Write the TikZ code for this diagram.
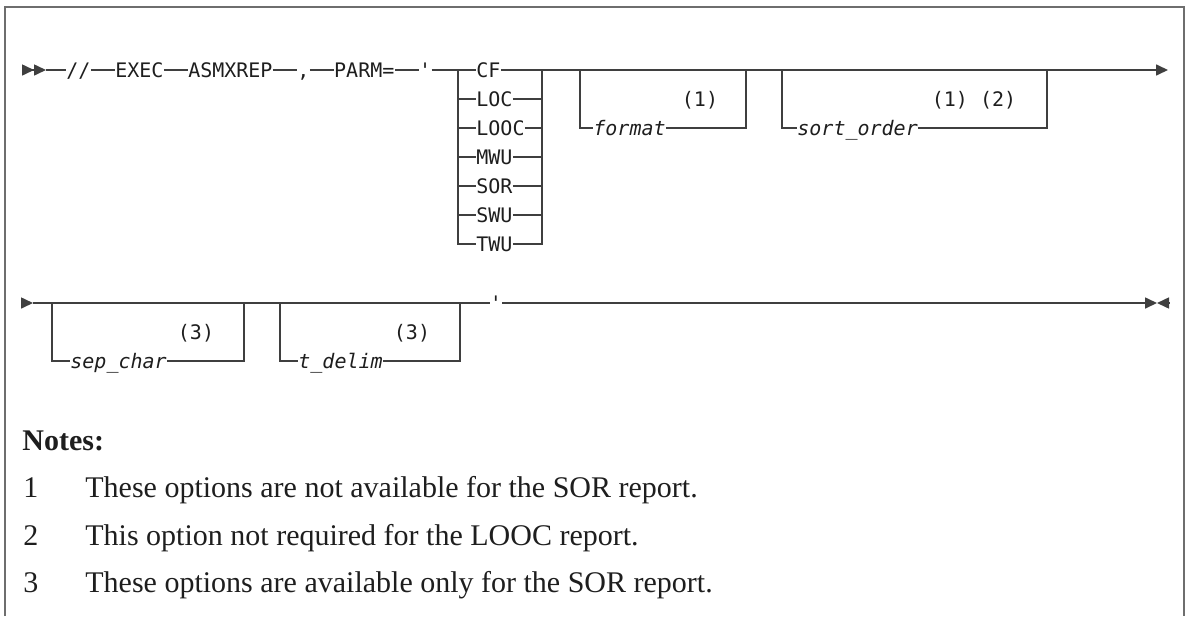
\documentclass[tikz,border=0pt]{standalone}
\usepackage{fontspec}
\setmainfont{Liberation Serif}
\setmonofont{DejaVu Sans Mono}
\usetikzlibrary{arrows.meta, positioning}

\definecolor{railgray}{HTML}{3F3F3F}
\definecolor{framegray}{HTML}{6E6E6E}
\definecolor{inkblack}{HTML}{1E1E1E}

\begin{document}
\begin{tikzpicture}[
    x=0.5pt, y=-0.5pt,
    node distance=12pt,
    font=\ttfamily\fontsize{10}{12}\selectfont,
    token/.style={inner xsep=0pt, inner ysep=0pt, text height=7.3pt, text depth=0pt, text=inkblack},
    param/.style={token, font=\ttfamily\itshape\fontsize{10}{12}\selectfont},
    rail/.style={draw=railgray, line width=0.8pt},
    railend/.style={rail, -{Triangle[length=6pt, width=5.5pt]}},
    notetext/.style={font=\rmfamily\fontsize{15}{18}\selectfont, inner sep=0pt, anchor=base west, text=inkblack},
    frame/.style={draw=framegray, line width=1.2pt}
]
\useasboundingbox (0,0) rectangle (1186,616);

% Frame
\draw[frame] (5,616) -- (5,7) -- (1184,7) -- (1184,616);

% First line of the statement
\coordinate (entryA) at (22,70);
\coordinate (entryAtip) at (46,70);
\node[token, anchor=west] (slashes) at (66,70) {//};
\node[token, right=of slashes] (exec) {EXEC};
\node[token, right=of exec] (pgm) {ASMXREP};
\node[token, right=of pgm] (comma) {,};
\node[token, right=of comma] (parm) {PARM=};
\node[token, right=of parm] (quoteA) {\textquotesingle};

% Report types
\coordinate (stackL) at (458,70);
\coordinate (stackR) at (542,70);
\foreach \rpt [count=\i from 0] in {CF,LOC,LOOC,MWU,SOR,SWU,TWU}
    \node[token, anchor=west] (rpt\i) at (476,{70+29*\i}) {\rpt};

% Optional parameters
\coordinate (fmtL) at (580,70);
\coordinate (fmtR) at (746,70);
\node[param, anchor=west] (fmt) at (593,128) {format};
\node[token] (fmtnote) at (700,99) {(1)};

\coordinate (sortL) at (782,70);
\coordinate (sortR) at (1047,70);
\node[param, anchor=west] (sort) at (797,128) {sort\_order};
\node[token] (sortnote) at (974,99) {(1) (2)};

\coordinate (exitA) at (1168,70);

% Arrows, first line
\draw[rail, -{Triangle[length=6pt, width=5.5pt, sep=0pt] Triangle[length=6pt, width=5.5pt]}] (entryA) -- (entryAtip);
\draw[rail] (entryAtip) -- (slashes);
\draw[rail] (slashes) -- (exec);
\draw[rail] (exec) -- (pgm);
\draw[rail] (pgm) -- (comma);
\draw[rail] (comma) -- (parm);
\draw[rail] (parm) -- (quoteA);
\draw[rail] (quoteA) -- (rpt0);
\draw[rail] (stackL) |- (rpt6.west);
\draw[rail] (rpt6.east) -| (stackR);
\foreach \i in {1,...,5} {
    \draw[rail] (rpt\i.west -| stackL) -- (rpt\i.west);
    \draw[rail] (rpt\i.east) -- (rpt\i.east -| stackR);
}
\draw[railend] (rpt0) -- (exitA);
\draw[rail] (fmtL) |- (fmt.west);
\draw[rail] (fmt.east) -| (fmtR);
\draw[rail] (sortL) |- (sort.west);
\draw[rail] (sort.east) -| (sortR);

% Second line of the statement
\coordinate (entryB) at (21,303);
\coordinate (entryBtip) at (33,303);
\coordinate (sepL) at (52,303);
\coordinate (sepR) at (244,303);
\node[param, anchor=west] (sepc) at (70,361) {sep\_char};
\node[token] (sepnote) at (196,332) {(3)};
\coordinate (tdL) at (280,303);
\coordinate (tdR) at (460,303);
\node[param, anchor=west] (tdel) at (298,361) {t\_delim};
\node[token] (tdnote) at (412,332) {(3)};
\node[token] (quoteB) at (496,303) {\textquotesingle};
\coordinate (exitB) at (1157,303);
\coordinate (exitBend) at (1169,303);

% Arrows, second line
\draw[railend] (entryB) -- (entryBtip);
\draw[rail] (entryBtip) -- (quoteB);
\draw[rail] (sepL) |- (sepc.west);
\draw[rail] (sepc.east) -| (sepR);
\draw[rail] (tdL) |- (tdel.west);
\draw[rail] (tdel.east) -| (tdR);
\draw[railend] (quoteB) -- (exitB);
\draw[railend] (exitBend) -- (exitB);

% Notes
\node[notetext, font=\rmfamily\bfseries\fontsize{15}{18}\selectfont] (notes) at (22,450) {Notes:};
\node[notetext] (numA) at (23,497) {1};
\node[notetext] (noteA) at (85,497) {These options are not available for the SOR report.};
\node[notetext] (numB) at (23,545) {2};
\node[notetext] (noteB) at (85,545) {This option not required for the LOOC report.};
\node[notetext] (numC) at (23,592) {3};
\node[notetext] (noteC) at (85,592) {These options are available only for the SOR report.};

\end{tikzpicture}
\end{document}
